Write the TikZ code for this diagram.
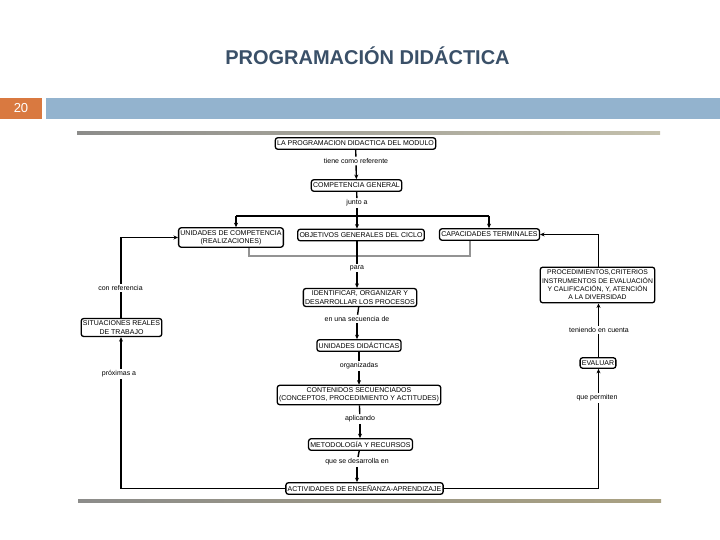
\documentclass[tikz,border=0pt]{standalone}
\usepackage{fontspec}
\setmainfont{Liberation Sans}
\usetikzlibrary{arrows.meta,calc}
\definecolor{titleblue}{RGB}{58,80,104}
\definecolor{barblue}{RGB}{147,179,206}
\definecolor{numorange}{RGB}{217,121,64}
\definecolor{lineA}{RGB}{140,140,138}
\definecolor{lineB}{RGB}{196,192,172}
\definecolor{lineC}{RGB}{170,162,130}
\tikzset{
  box/.style={draw=black, line width=1.3pt, rounded corners=2.5pt, fill=white,
    font=\fontsize{7}{8.2}\selectfont, inner xsep=1.8pt, inner ysep=1.8pt,
    minimum height=11.5pt, align=center},
  twoline/.style={inner ysep=2.4pt},
  lbl/.style={font=\fontsize{7}{8}\selectfont, inner sep=1.5pt, fill=white},
  conn/.style={line width=1.4pt, black},
  arr/.style={conn, -{Stealth[length=4.5pt,width=4pt]}},
  grayconn/.style={line width=1.4pt, color=gray!85},
}
\begin{document}
\begin{tikzpicture}[x=1pt,y=-1pt]
\useasboundingbox (0,0) rectangle (720,540);
% header
\node[font=\fontsize{20}{24}\selectfont\bfseries, text=titleblue] (title) at (367.5,56) {PROGRAMACIÓN DIDÁCTICA};
\fill[numorange] (0,98) rectangle (42,119);
\node[font=\fontsize{13}{15}\selectfont, text=white] (num) at (21,108.5) {20};
\fill[barblue] (46,98) rectangle (720,119);
\shade[left color=lineA, right color=lineB] (77,132) rectangle (660,135);
\shade[left color=lineA, middle color=lineB, right color=lineC] (78,499) rectangle (661,502.5);

% nodes
\node[box] (prog) at (355.5,143.5) {LA PROGRAMACION DIDACTICA DEL MODULO};
\node[lbl] (l1) at (356,161) {tiene como referente};
\node[box] (comp) at (356.5,185.5) {COMPETENCIA GENERAL};
\node[lbl] (l2) at (357,203) {junto a};
\node[box, twoline] (unid) at (231,237.5) {UNIDADES DE COMPETENCIA\\(REALIZACIONES)};
\node[box] (obj) at (361,235) {OBJETIVOS GENERALES DEL CICLO};
\node[box] (cap) at (489.5,234.5) {CAPACIDADES TERMINALES};
\node[lbl] (l3) at (357,268) {para};
\node[box, twoline] (ident) at (360,297.5) {IDENTIFICAR, ORGANIZAR Y\\DESARROLLAR LOS PROCESOS};
\node[lbl] (l4) at (357,319) {en una secuencia de};
\node[box] (udid) at (359,345.5) {UNIDADES DIDÁCTICAS};
\node[lbl] (l5) at (359,366) {organizadas};
\node[box, twoline] (cont) at (359,395) {CONTENIDOS SECUENCIADOS\\(CONCEPTOS, PROCEDIMIENTO Y ACTITUDES)};
\node[lbl] (l6) at (360,419) {aplicando};
\node[box] (met) at (360.5,444.5) {METODOLOGÍA Y RECURSOS};
\node[lbl] (l7) at (357,462) {que se desarrolla en};
\node[box] (act) at (364.5,488.5) {ACTIVIDADES DE ENSEÑANZA-APRENDIZAJE};
\node[box, twoline] (sit) at (121.5,327.5) {SITUACIONES REALES\\DE TRABAJO};
\node[lbl] (lcon) at (120.5,288) {con referencia};
\node[lbl] (lprox) at (119,374) {próximas a};
\node[box, inner ysep=2.8pt, font=\fontsize{6.8}{8.4}\selectfont] (proc) at (597.5,285) {PROCEDIMIENTOS,CRITERIOS\\INSTRUMENTOS DE EVALUACIÓN\\Y CALIFICACIÓN, Y, ATENCIÓN\\A LA DIVERSIDAD};
\node[lbl] (lten) at (599,330) {teniendo en cuenta};
\node[box, minimum height=10.5pt] (eval) at (598,363) {EVALUAR};
\node[lbl] (lperm) at (597,398) {que permiten};

% coordinates
\coordinate (jc) at (357,216);
\coordinate (bl) at (236,216);
\coordinate (br) at (489,216);
\coordinate (g1) at (249,256);
\coordinate (g2) at (470,256);
\coordinate (lx) at (121,0);
\coordinate (rx) at (598.5,0);

% connectors
\draw[conn] (prog) -- (l1);
\draw[arr] (l1) -- (comp);
\draw[conn] (comp) -- (l2);
\draw[conn] (l2) -- (jc);
\draw[conn] (bl) -- (br);
\draw[arr] (bl) -- (bl |- unid.north);
\draw[arr] (jc) -- (jc |- obj.north);
\draw[arr] (br) -- (br |- cap.north);
\draw[grayconn] (g1 |- unid.south) -- (g1) -- (g2) -- (g2 |- cap.south);
\draw[conn] (jc |- obj.south) -- (l3);
\draw[arr] (l3) -- (l3 |- ident.north);
\draw[conn] (ident) -- (l4);
\draw[arr] (l4) -- (l4 |- udid.north);
\draw[conn] (udid) -- (l5);
\draw[arr] (l5) -- (cont);
\draw[conn] (cont) -- (l6);
\draw[arr] (l6) -- (l6 |- met.north);
\draw[conn] (met) -- (l7);
\draw[arr] (l7) -- (l7 |- act.north);
% left branch
\draw[conn] (act.west) -| (lx |- lprox.south);
\draw[arr] (lx |- lprox.north) -- (lx |- sit.south);
\draw[conn] (lx |- sit.north) -- (lx |- lcon.south);
\draw[arr] (lx |- lcon.north) |- (unid.west);
% right branch
\draw[conn] (act.east) -| (rx |- lperm.south);
\draw[arr] (rx |- lperm.north) -- (rx |- eval.south);
\draw[conn] (rx |- eval.north) -- (rx |- lten.south);
\draw[arr] (rx |- lten.north) -- (rx |- proc.south);
\draw[arr] (rx |- proc.north) |- (cap.east);
\end{tikzpicture}
\end{document}
